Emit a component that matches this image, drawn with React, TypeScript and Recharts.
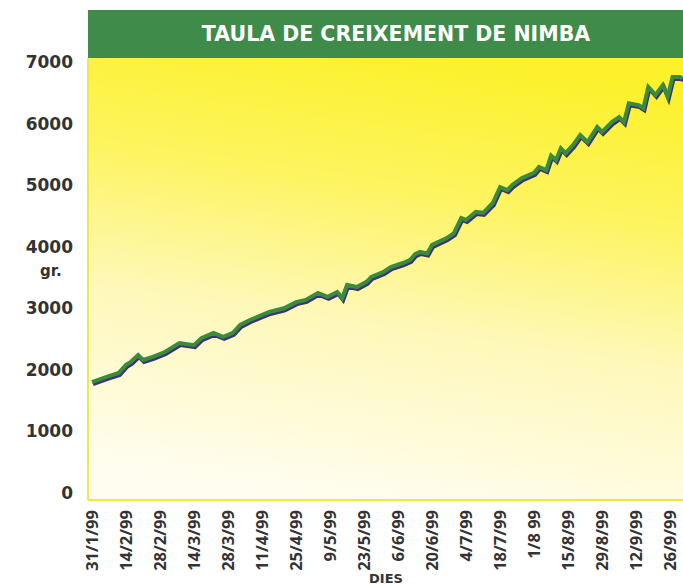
import { LineChart, Line, XAxis, YAxis, CartesianGrid } from "recharts";

// dies des del 31/1/99 i pes en grams
const DAYS = [0, 6, 11, 14, 16, 19, 21, 25, 30, 36, 42, 45, 50, 54, 58, 61, 65, 73, 79, 84, 88, 93, 97, 101, 103, 105, 109, 113, 115, 120, 123, 128, 131, 133, 135, 138, 140, 146, 149, 152, 154, 158, 161, 165, 168, 171, 173, 177, 182, 184, 187, 189, 191, 193, 195, 198, 201, 204, 208, 210, 214, 217, 219, 221, 225, 227, 229, 232, 235, 237, 239, 242, 243];
const WEIGHTS = [1800, 1885, 1950, 2080, 2130, 2240, 2160, 2210, 2290, 2435, 2400, 2515, 2600, 2535, 2600, 2730, 2810, 2940, 3000, 3100, 3135, 3250, 3185, 3265, 3165, 3380, 3345, 3430, 3510, 3590, 3670, 3735, 3785, 3880, 3915, 3890, 4030, 4140, 4220, 4465, 4435, 4565, 4550, 4710, 4970, 4920, 5000, 5115, 5200, 5295, 5245, 5480, 5410, 5600, 5520, 5650, 5815, 5700, 5945, 5865, 6025, 6105, 6025, 6330, 6300, 6250, 6595, 6465, 6625, 6430, 6755, 6755, 6740];

const TICK_DAYS = [0, 14, 28, 42, 56, 70, 84, 98, 112, 126, 140, 154, 168, 182, 196, 210, 224, 238];
const TICK_LABELS = ["31/1/99", "14/2/99", "28/2/99", "14/3/99", "28/3/99", "11/4/99", "25/4/99", "9/5/99", "23/5/99", "6/6/99", "20/6/99", "4/7/99", "18/7/99", "1/8 99", "15/8/99", "29/8/99", "12/9/99", "26/9/99"];
const Y_TICKS = [0, 1000, 2000, 3000, 4000, 5000, 6000, 7000];

const data = DAYS.map((d, i) => ({ day: d, pes: WEIGHTS[i] }));

const DateTick = (props: any) => {
  const { x, y, payload } = props;
  const label = TICK_LABELS[TICK_DAYS.indexOf(payload.value)] ?? "";
  return (
    <text
      transform={`translate(${x},${y}) rotate(-90)`}
      textAnchor="end"
      dy="0.36em"
      fontFamily="'Open Sans'"
      fontWeight={700}
      fontSize={16.5}
      fill="#333"
    >
      {label}
    </text>
  );
};

export default function App() {
  return (
    <div style={{ width: 683, height: 588, position: "relative", overflow: "hidden", background: "#fff" }}>
      <style>{`html, body { margin: 0; padding: 0; overflow: hidden; }
.recharts-line-curve { filter: drop-shadow(1.5px 2px 0.5px #3f3078); }`}</style>
      <div
        style={{
          position: "absolute", left: 88, top: 10, width: 616, height: 48,
          background: "#3f8b49", color: "#fff", textAlign: "center",
          fontFamily: "'DejaVu Sans'", fontWeight: 700, fontSize: 20.5, lineHeight: "48px",
        }}
      >
        TAULA DE CREIXEMENT DE NIMBA
      </div>
      <div style={{ position: "absolute", left: 40, top: 262, fontFamily: "'DejaVu Sans'", fontWeight: 700, fontSize: 15, color: "#333" }}>
        gr.
      </div>
      <div style={{ position: "absolute", left: 369, top: 572, fontFamily: "'DejaVu Sans'", fontWeight: 700, fontSize: 13, color: "#333", lineHeight: 1 }}>
        DIES
      </div>
      <div style={{ position: "absolute", left: 0, top: 0 }}>
        <LineChart width={700} height={588} data={data} margin={{ top: 58, right: 0, left: 0, bottom: 0 }}>
          <defs>
            <linearGradient id="bg" x1="0.6" y1="0" x2="0.4" y2="1">
              <stop offset="0" stopColor="#fcf12a" />
              <stop offset="0.3" stopColor="#fdf460" />
              <stop offset="0.6" stopColor="#fef8b8" />
              <stop offset="1" stopColor="#fffdf0" />
            </linearGradient>
          </defs>
          <CartesianGrid horizontal={false} vertical={false} fill="url(#bg)" />
          <XAxis
            dataKey="day"
            type="number"
            domain={[-1.65, 250.3]}
            ticks={TICK_DAYS}
            interval={0}
            height={88}
            axisLine={{ stroke: "#f3e93c", strokeWidth: 2 }}
            tickLine={false}
            tickSize={0}
            tickMargin={10}
            tick={<DateTick />}
            allowDataOverflow
          />
          <YAxis
            type="number"
            domain={[-114, 7065]}
            ticks={Y_TICKS}
            width={88}
            axisLine={{ stroke: "#f3e93c", strokeWidth: 2 }}
            tickLine={false}
            tickSize={0}
            tickMargin={15}
            tick={{ fontFamily: "'DejaVu Sans'", fontWeight: 700, fontSize: 17, fill: "#333" }}
            allowDataOverflow
          />
          <Line
            type="linear"
            dataKey="pes"
            stroke="#3a8c3c"
            strokeWidth={4}
            dot={false}
            isAnimationActive={false}
          />
        </LineChart>
      </div>
    </div>
  );
}
